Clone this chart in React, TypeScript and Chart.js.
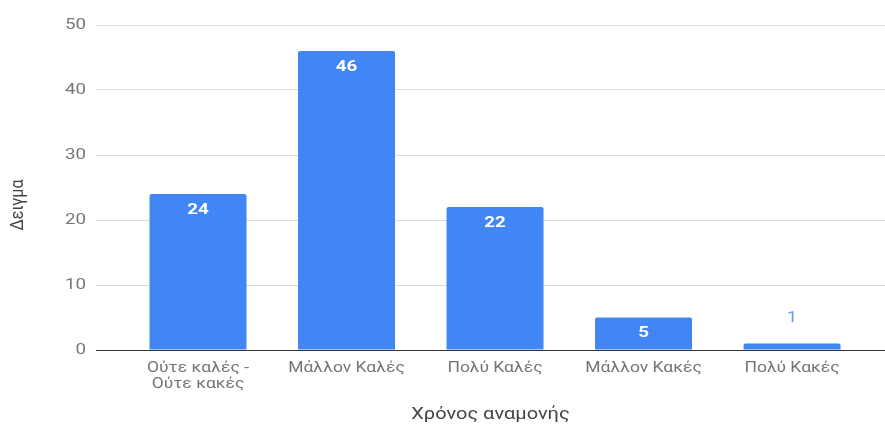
import React, { useEffect, useRef } from "react";
import { Chart, registerables } from "chart.js";

Chart.register(...registerables);

const categories: string[][] = [
  ["Ούτε καλές -", "Ούτε κακές"],
  ["Μάλλον Καλές"],
  ["Πολύ Καλές"],
  ["Μάλλον Κακές"],
  ["Πολύ Κακές"],
];
const values = [24, 46, 22, 5, 1];
const yTicks = [0, 10, 20, 30, 40, 50];
const yTitle = "Δειγμα";
const xTitle = "Χρόνος αναμονής";

const BLUE = "#4285F4";
const FONT = "Roboto, 'Noto Sans', sans-serif";
const SX = 1.25;

function drawText(
  ctx: CanvasRenderingContext2D,
  text: string,
  x: number,
  y: number,
  font: string,
  color: string,
  align: CanvasTextAlign,
  baseline: CanvasTextBaseline,
  sx = SX
) {
  ctx.save();
  ctx.translate(x, y);
  ctx.scale(sx, 1);
  ctx.font = font;
  ctx.fillStyle = color;
  ctx.textAlign = align;
  ctx.textBaseline = baseline;
  ctx.fillText(text, 0, 0);
  ctx.restore();
}

export default function App() {
  const ref = useRef<HTMLCanvasElement>(null);

  useEffect(() => {
    document.body.style.margin = "0";
    const canvas = ref.current!;

    const textPlugin = {
      id: "texts",
      afterDatasetsDraw(chart: any) {
        const ctx = chart.ctx as CanvasRenderingContext2D;
        const meta = chart.getDatasetMeta(0);
        const xs = chart.scales.x;
        const ys = chart.scales.y;
        const a = chart.chartArea;

        // bar value labels
        meta.data.forEach((bar: any, i: number) => {
          const v = values[i];
          const h = bar.base - bar.y;
          if (h > 24) {
            drawText(ctx, String(v), bar.x, bar.y + 16, `bold 15px ${FONT}`, "#ffffff", "center", "middle");
          } else {
            drawText(ctx, String(v), bar.x, bar.y - 25, `15px ${FONT}`, "#5f9cf6", "center", "middle");
          }
        });

        // y tick labels
        yTicks.forEach((t) => {
          const py = ys.getPixelForValue(t);
          drawText(ctx, String(t), a.left - 10, py, `15px ${FONT}`, "#777777", "right", "middle");
        });

        // x tick labels
        categories.forEach((lines, i) => {
          const px = xs.getPixelForValue(i);
          lines.forEach((ln, j) => {
            drawText(ctx, ln, px, a.bottom + 22 + j * 16, `14px ${FONT}`, "#757575", "center", "alphabetic");
          });
        });

        // x title
        drawText(ctx, xTitle, (a.left + a.right) / 2, 419, `16px ${FONT}`, "#444444", "center", "alphabetic");

        // y title
        ctx.save();
        ctx.translate(18, 205);
        ctx.rotate(-Math.PI / 2);
        ctx.scale(1, 1.2);
        ctx.font = `16px ${FONT}`;
        ctx.fillStyle = "#444444";
        ctx.textAlign = "center";
        ctx.textBaseline = "middle";
        ctx.fillText(yTitle, 0, 0);
        ctx.restore();
      },
    };

    const chart = new Chart(canvas, {
      type: "bar",
      data: {
        datasets: [
          {
            data: values.map((v, i) => ({ x: i, y: v })),
            backgroundColor: BLUE,
            borderRadius: 2,
            borderSkipped: "bottom",
            barPercentage: 1,
            categoryPercentage: 0.653,
          },
        ],
      },
      options: {
        animation: false,
        responsive: false,
        maintainAspectRatio: false,
        layout: { padding: { top: 25, right: 0, left: 0, bottom: 0 } },
        plugins: {
          legend: { display: false },
          tooltip: { enabled: false },
          title: { display: false },
        },
        scales: {
          x: {
            type: "linear",
            offset: false,
            min: -0.687,
            max: 4.626,
            afterBuildTicks: (s: any) => {
              s.ticks = categories.map((_, i) => ({ value: i }));
            },
            afterFit: (s: any) => {
              s.height = 84;
            },
            grid: { display: false, drawTicks: false },
            border: { display: true, color: "#333333", width: 1 },
            ticks: { display: false },
          },
          y: {
            min: 0,
            max: 50,
            afterBuildTicks: (s: any) => {
              s.ticks = yTicks.map((v) => ({ value: v }));
            },
            afterFit: (s: any) => {
              s.width = 96;
            },
            grid: {
              color: (c: any) => (c.tick && c.tick.value === 0 ? "rgba(0,0,0,0)" : "#d9d9d9"),
              drawTicks: false,
            },
            border: { display: false },
            ticks: { display: false },
          },
        },
      },
      plugins: [textPlugin],
    } as any);

    return () => chart.destroy();
  }, []);

  return <canvas ref={ref} width={885} height={434} style={{ display: "block" }} />;
}
